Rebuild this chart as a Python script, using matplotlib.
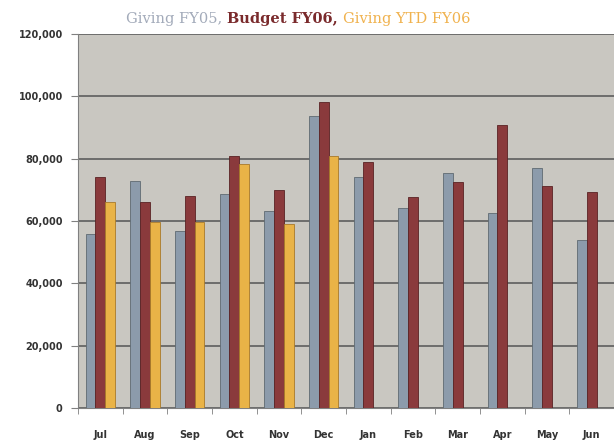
import matplotlib.pyplot as plt
import numpy as np
from matplotlib.ticker import FuncFormatter

months = ["Jul", "Aug", "Sep", "Oct", "Nov", "Dec", "Jan", "Feb", "Mar", "Apr", "May", "Jun"]
giving_fy05 = [56000, 72800, 56800, 68700, 63200, 93700, 74200, 64200, 75500, 62600, 76900, 54000]
budget_fy06 = [74100, 66000, 68000, 80800, 70000, 98200, 79000, 67800, 72600, 90800, 71300, 69200]
giving_ytd_fy06 = [66000, 59700, 59700, 78300, 59000, 80800]

c_fy05 = "#8c9bab"
c_budget = "#8a3a3c"
c_ytd = "#e9b347"

fig = plt.figure(figsize=(6.14, 4.43), dpi=100)
ax = fig.add_axes([0.127, 0.079, 0.873, 0.844])
ax.set_facecolor("#c9c7c1")

x = np.arange(len(months))
w = 0.22
ax.bar(x - w, giving_fy05, w, color=c_fy05, edgecolor="#5f6a72", linewidth=0.6, zorder=3)
ax.bar(x, budget_fy06, w, color=c_budget, edgecolor="#5a2224", linewidth=0.6, zorder=3)
xy = np.arange(len(giving_ytd_fy06))
ax.bar(xy + w, giving_ytd_fy06, w, color=c_ytd, edgecolor="#a87a2a", linewidth=0.6, zorder=3)

ax.set_xlim(-0.5, 11.5)
ax.set_ylim(0, 120000)
ax.set_yticks(range(0, 120001, 20000))
ax.yaxis.set_major_formatter(FuncFormatter(lambda v, p: f"{int(v):,}"))
ax.grid(axis="y", color="#666666", linewidth=1.3, zorder=1)

ax.set_xticks(x)
ax.set_xticklabels(months)
ax.set_xticks(np.arange(-0.5, 12, 1), minor=True)
ax.tick_params(axis="x", which="major", length=0, pad=16)
ax.tick_params(axis="x", which="minor", length=4, color="#808080")
ax.tick_params(axis="y", length=5, color="#808080", pad=6)
for lab in ax.get_xticklabels() + ax.get_yticklabels():
    lab.set_fontsize(7)
    lab.set_fontweight("bold")
    lab.set_color("#333333")

for s in ["top", "right"]:
    ax.spines[s].set_visible(False)
for s in ["left", "bottom"]:
    ax.spines[s].set_color("#808080")

# multi-coloured title
parts = [("Giving FY05, ", "#a3abba", "normal"),
         ("Budget FY06, ", "#7a2a2c", "bold"),
         ("Giving YTD FY06", "#f0b24e", "normal")]
fig.canvas.draw()
r = fig.canvas.get_renderer()
texts = []
for s, c, fw in parts:
    t = fig.text(0, 0.958, s, color=c, fontweight=fw, fontsize=10.5,
                 family="DejaVu Serif", va="center", ha="left")
    texts.append(t)
widths = [t.get_window_extent(r).width for t in texts]
total = sum(widths)
xpos = 298 - total / 2
for t, wd in zip(texts, widths):
    t.set_x(xpos / fig.bbox.width)
    xpos += wd

fig.savefig("out.png", dpi=100)
